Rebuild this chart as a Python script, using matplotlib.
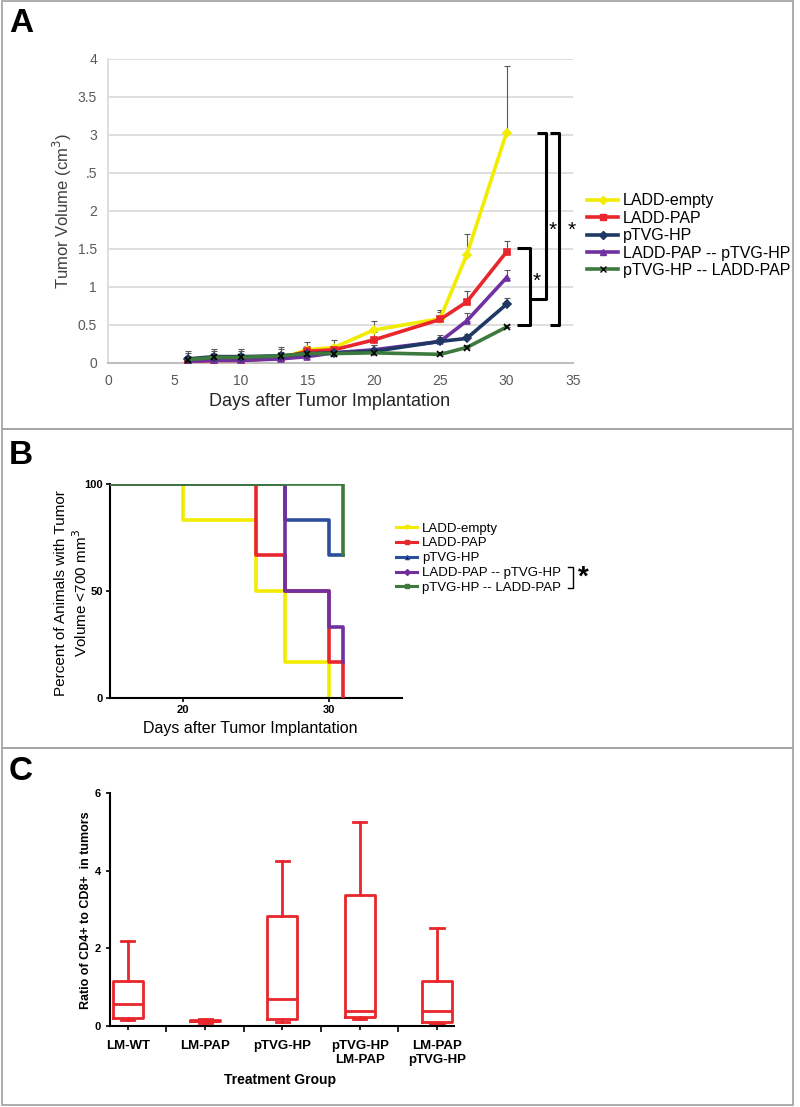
import matplotlib
matplotlib.use("Agg")
import matplotlib.pyplot as plt
from matplotlib.patches import Rectangle
from matplotlib.lines import Line2D

plt.rcParams['font.family'] = ['Liberation Sans', 'DejaVu Sans']

# ---------------- Panel A data ----------------
days_a = [6, 8, 10, 13, 15, 17, 20, 25, 27, 30]
series_a = ["LADD-empty", "LADD-PAP", "pTVG-HP", "LADD-PAP -- pTVG-HP", "pTVG-HP -- LADD-PAP"]
vol_empty = [0.01, 0.03, 0.03, 0.06, 0.17, 0.20, 0.43, 0.58, 1.42, 3.03]
vol_pap = [0.01, 0.03, 0.03, 0.06, 0.15, 0.17, 0.30, 0.57, 0.80, 1.46]
vol_tvg = [0.05, 0.08, 0.08, 0.09, 0.12, 0.13, 0.15, 0.28, 0.32, 0.77]
vol_pap_tvg = [0.02, 0.03, 0.03, 0.05, 0.08, 0.13, 0.17, 0.28, 0.55, 1.12]
vol_tvg_pap = [0.04, 0.07, 0.07, 0.09, 0.12, 0.12, 0.13, 0.11, 0.20, 0.47]
err_empty = [0.12, 0.12, 0.12, 0.12, 0.10, 0.10, 0.12, 0.12, 0.28, 0.88]
err_pap = [0.05, 0.05, 0.05, 0.05, 0.05, 0.05, 0.10, 0.10, 0.14, 0.14]
err_tvg = [0.10, 0.10, 0.10, 0.12, 0.10, 0.08, 0.08, 0.06, 0.06, 0.08]
err_pap_tvg = [0.06, 0.06, 0.06, 0.06, 0.06, 0.06, 0.06, 0.08, 0.10, 0.10]
err_tvg_pap = [0.05, 0.05, 0.05, 0.05, 0.04, 0.04, 0.03, 0.03, 0.03, 0.03]
yticks_a = [0, 0.5, 1, 1.5, 2, 2.5, 3, 3.5, 4]
yticklabels_a = ["0", "0.5", "1", "1.5", "2", ".5", "3", "3.5", "4"]
xticks_a = [0, 5, 10, 15, 20, 25, 30, 35]

# ---------------- Panel B data ----------------
days_b_empty = [0, 20, 25, 27, 30]
pct_b_empty = [100, 83.3, 50, 16.7, 0]
days_b_pap = [0, 25, 27, 30, 31]
pct_b_pap = [100, 66.7, 50, 16.7, 0]
days_b_tvg = [0, 27, 30, 31]
pct_b_tvg = [100, 83.3, 66.7, 66.7]
days_b_pap_tvg = [0, 27, 30, 31]
pct_b_pap_tvg = [100, 50, 33.3, 16.7]
days_b_tvg_pap = [0, 31]
pct_b_tvg_pap = [100, 66.7]

# ---------------- Panel C data ----------------
groups_c = ["LM-WT", "LM-PAP", "pTVG-HP", "pTVG-HP\nLM-PAP", "LM-PAP\npTVG-HP"]
c_min = [0.15, 0.09, 0.11, 0.19, 0.05]
c_q1 = [0.21, 0.12, 0.17, 0.22, 0.10]
c_med = [0.58, 0.14, 0.70, 0.39, 0.39]
c_q3 = [1.17, 0.16, 2.84, 3.39, 1.17]
c_max = [2.20, 0.19, 4.26, 5.25, 2.53]

col_yellow = "#f2ec00"
col_red = "#e8262b"
col_navy = "#1f3864"
col_blue_b = "#2a4f9e"
col_purple = "#7030a0"
col_green = "#3d7a3d"

W, H = 800, 1107
fig = plt.figure(figsize=(8, 11.07), dpi=100)

def fx(px):
    return px / W

def fy(py):
    return 1 - py / H

# panel borders
for (y0, y1) in [(1, 429), (429, 748), (748, 1105)]:
    fig.patches.append(Rectangle((fx(2), fy(y1)), fx(791), (y1 - y0) / H,
                                 transform=fig.transFigure, fill=False,
                                 edgecolor="#a6a6a6", lw=1.3))

for lab, py in [("A", 23), ("B", 456), ("C", 771)]:
    fig.text(fx(9), fy(py), lab, fontsize=24, fontweight="bold", va="center", ha="left")

# ================= Panel A =================
axA = fig.add_axes([fx(108), fy(362.7), fx(573 - 108), (362.7 - 59) / H])
vals = [vol_empty, vol_pap, vol_tvg, vol_pap_tvg, vol_tvg_pap]
errs = [err_empty, err_pap, err_tvg, err_pap_tvg, err_tvg_pap]
cols = [col_yellow, col_red, col_navy, col_purple, col_green]
marks = ["D", "s", "D", "^", "x"]
mcols = [col_yellow, col_red, col_navy, col_purple, "black"]
order = [0, 1, 3, 2, 4]
for i in order:
    axA.errorbar(days_a, vals[i], yerr=[[0] * len(days_a), errs[i]], fmt="none",
                 ecolor="#595959", elinewidth=0.8, capsize=2.5, capthick=0.8, zorder=2)
handles = []
for i in order:
    axA.plot(days_a, vals[i], color=cols[i], lw=2.6, marker=marks[i], ms=4.5,
             mfc=mcols[i], mec=mcols[i], mew=1.2, zorder=3)
for i in range(5):
    handles.append(Line2D([], [], color=cols[i], lw=2.6, marker=marks[i], ms=4,
                          mfc=mcols[i], mec=mcols[i]))
axA.set_xlim(0, 35)
axA.set_ylim(0, 4)
axA.set_xticks(xticks_a)
axA.set_yticks(yticks_a)
axA.set_yticklabels(yticklabels_a)
axA.grid(axis="y", color="#d9d9d9", lw=1.2)
axA.set_axisbelow(True)
for s in ["top", "right"]:
    axA.spines[s].set_visible(False)
axA.spines["left"].set_color("#d9d9d9")
axA.spines["bottom"].set_color("#bfbfbf")
axA.spines["left"].set_linewidth(1.2)
axA.spines["bottom"].set_linewidth(1.5)
axA.tick_params(length=0, labelsize=10, colors="#595959", pad=8)
fig.text(fx(62), fy(211), "Tumor Volume (cm$^3$)", rotation=90, fontsize=12,
         color="#404040", ha="center", va="center")
fig.text(fx(330), fy(402), "Days after Tumor Implantation", fontsize=13,
         color="#262626", ha="center", va="center")
fig.legend(handles, series_a, loc="upper left", bbox_to_anchor=(fx(581), fy(187)),
           frameon=False, fontsize=11.5, handlelength=1.9, handletextpad=0.3,
           labelspacing=0.15, borderaxespad=0)

# significance brackets (panel A)
bk = dict(color="black", lw=2.2, clip_on=False, solid_capstyle="butt")
top_y = vol_empty[-1]
# inner bracket (LADD-PAP vs pTVG-HP -- LADD-PAP)
axA.plot([30.75, 31.8, 31.8, 30.75], [vol_pap[-1] + 0.05, vol_pap[-1] + 0.05, 0.5, 0.5], **bk)
mid = 0.84
axA.plot([31.8, 32.95, 32.95, 32.3], [mid, mid, top_y, top_y], **bk)
axA.plot([33.25, 33.95, 33.95, 33.25], [top_y, top_y, 0.49, 0.49], **bk)
axA.text(32.3, 1.07, "*", fontsize=15, ha="center", va="center")
axA.text(33.5, 1.75, "*", fontsize=15, ha="center", va="center")
axA.text(34.9, 1.75, "*", fontsize=15, ha="center", va="center")

# ================= Panel B =================
axB = fig.add_axes([fx(110), fy(697.7), fx(401.7 - 110), (697.7 - 484.3) / H])
b_days = [days_b_empty, days_b_pap, days_b_tvg, days_b_pap_tvg, days_b_tvg_pap]
b_pct = [pct_b_empty, pct_b_pap, pct_b_tvg, pct_b_pap_tvg, pct_b_tvg_pap]
b_cols = [col_yellow, col_red, col_blue_b, col_purple, col_green]
b_marks = ["v", "s", "^", "D", "s"]
b_handles = []
for i in range(5):
    axB.step(b_days[i], b_pct[i], where="post", color=b_cols[i], lw=2.6, zorder=2 + i)
    b_handles.append(Line2D([], [], color=b_cols[i], lw=2.2, marker=b_marks[i], ms=3,
                            mfc=b_cols[i] if i != 2 else "black", mec=b_cols[i]))
axB.set_xlim(15, 35)
axB.set_ylim(0, 100)
axB.set_xticks([20, 30])
axB.set_yticks([0, 50, 100])
for s in ["top", "right"]:
    axB.spines[s].set_visible(False)
for s in ["left", "bottom"]:
    axB.spines[s].set_linewidth(1.5)
axB.tick_params(labelsize=8, width=1.2, length=3, pad=2)
for t in axB.get_xticklabels() + axB.get_yticklabels():
    t.set_fontweight("bold")
fig.text(fx(72), fy(593), "Percent of Animals with Tumor\nVolume <700 mm$^3$", rotation=90,
         fontsize=11, ha="center", va="center", linespacing=1.15)
fig.text(fx(250), fy(728), "Days after Tumor Implantation", fontsize=11.5,
         ha="center", va="center")
fig.legend(b_handles, series_a, loc="upper left", bbox_to_anchor=(fx(391), fy(517)),
           frameon=False, fontsize=9.5, handlelength=1.6, handletextpad=0.35,
           labelspacing=0.2, borderaxespad=0)
fig.lines.append(Line2D([fx(568), fx(573), fx(573), fx(568)],
                        [fy(567), fy(567), fy(588), fy(588)], transform=fig.transFigure,
                        color="black", lw=1.0))
fig.text(fx(583), fy(578), "*", fontsize=20, fontweight="bold", ha="center", va="center")

# ================= Panel C =================
axC = fig.add_axes([fx(110), fy(1026), fx(454 - 110), (1026 - 793.3) / H])
stats = []
for i in range(5):
    stats.append(dict(whislo=c_min[i], q1=c_q1[i], med=c_med[i], q3=c_q3[i],
                      whishi=c_max[i], label=groups_c[i]))
pos = [1, 2, 3, 4, 5]
lp = dict(color=col_red, lw=2)
axC.bxp(stats, positions=pos, widths=0.39, showfliers=False,
        boxprops=lp, medianprops=lp, whiskerprops=lp, capprops=lp, capwidths=0.17)
axC.set_xlim(0.77, 5.22)
axC.set_ylim(0, 6)
axC.set_yticks([0, 2, 4, 6])
axC.set_xticks(pos)
axC.set_xticklabels(groups_c, linespacing=1.2)
axC.set_xticks([1.5, 2.5, 3.5, 4.5], minor=True)
for s in ["top", "right"]:
    axC.spines[s].set_visible(False)
for s in ["left", "bottom"]:
    axC.spines[s].set_linewidth(1.5)
axC.tick_params(labelsize=8, width=1.2, length=3)
axC.tick_params(axis="x", which="major", labelsize=9.5, pad=7)
axC.tick_params(axis="x", which="minor", width=1.2, length=4)
for t in axC.get_xticklabels() + axC.get_yticklabels():
    t.set_fontweight("bold")
fig.text(fx(86), fy(910), "Ratio of CD4+ to CD8+  in tumors", rotation=90, fontsize=9,
         fontweight="bold", ha="center", va="center")
fig.text(fx(280), fy(1080), "Treatment Group", fontsize=10, fontweight="bold",
         ha="center", va="center")

fig.savefig("out.png", dpi=100)
